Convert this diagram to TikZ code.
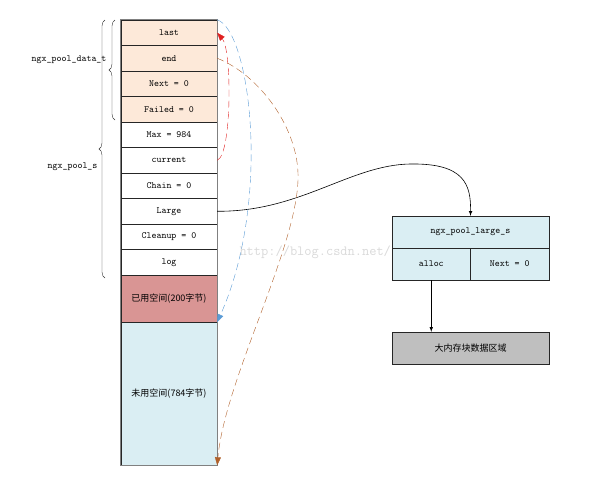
\documentclass[tikz,border=0pt]{standalone}
\usepackage{fontspec}
\newfontfamily\cjk{Noto Sans CJK SC}
\usetikzlibrary{arrows.meta,decorations.pathreplacing}

\definecolor{peach}{HTML}{FDE9D9}
\definecolor{usedred}{HTML}{D99594}
\definecolor{paleblue}{HTML}{DAEEF3}
\definecolor{blockgray}{HTML}{BFBFBF}
\definecolor{ptrred}{HTML}{E02020}
\definecolor{ptrblue}{HTML}{5B9BD5}
\definecolor{ptrbrown}{HTML}{B0602A}

\begin{document}
\begin{tikzpicture}[x=1pt,y=-1pt,>=latex]
        \tikzset{
            field/.style={draw=black!85, minimum width=96pt, minimum height=25.5pt, inner sep=0pt, font=\ttfamily\fontsize{9.5}{11}\selectfont},
            area/.style={draw=black!85, minimum width=96pt, inner sep=0pt, font=\cjk\fontsize{9}{11}\selectfont},
            cell/.style={draw=black!85, fill=paleblue, minimum height=32pt, inner sep=0pt, font=\ttfamily\fontsize{9.5}{11}\selectfont},
            ptr/.style={dashed, dash pattern=on 7pt off 4pt, -{Triangle[length=8pt,width=6pt]}},
            link/.style={->, black, line width=0.6pt},
            brace/.style={decorate, decoration={brace, amplitude=6pt}, black!80},
            tag/.style={font=\ttfamily\fontsize{9.5}{11}\selectfont}
        }
        \useasboundingbox (0,0) rectangle (591,480);

        % watermark, under the boxes
        \node[anchor=west, text=black!15, font=\ttfamily\fontsize{14}{15}\selectfont] (mark) at (236,252) {http://blog.csdn.net/};

        % ngx_pool_s column
        \node[field, fill=peach] (last) at (169,32.75) {last};
        \node[field, fill=peach] (end) at (169,58.25) {end};
        \node[field, fill=peach] (next) at (169,83.75) {Next = 0};
        \node[field, fill=peach] (failed) at (169,109.25) {Failed = 0};
        \node[field, fill=white] (max) at (169,134.75) {Max = 984};
        \node[field, fill=white] (current) at (169,160.25) {current};
        \node[field, fill=white] (chain) at (169,185.75) {Chain = 0};
        \node[field, fill=white] (large) at (169,211.25) {Large};
        \node[field, fill=white] (cleanup) at (169,236.75) {Cleanup = 0};
        \node[field, fill=white] (log) at (169,262.25) {log};
        \node[area, fill=usedred, minimum height=47pt] (used) at (169,298.5) {已用空间(200字节)};
        \node[area, fill=paleblue, minimum height=143pt] (unused) at (169,393.5) {未用空间(784字节)};
        \draw[black!50, line width=1.2pt] (last.north west) rectangle (unused.south east);

        % braces and their names
        \draw[brace] (115,120) -- (115,20);
        \draw[brace] (105,278) -- (105,20);
        \node[tag, anchor=east] (datat) at (110,60) {ngx\_pool\_data\_t};
        \node[tag, anchor=east] (pools) at (101,167) {ngx\_pool\_s};

        % ngx_pool_large_s
        \node[cell, minimum width=157pt] (larges) at (470.5,232) {ngx\_pool\_large\_s};
        \node[cell, minimum width=78.5pt] (alloc) at (431.25,264) {alloc};
        \node[cell, minimum width=78.5pt] (lnext) at (509.75,264) {Next = 0};
        \node[draw=black!85, fill=blockgray, minimum width=157pt, minimum height=32pt, inner sep=0pt, font=\cjk\fontsize{9}{11}\selectfont] (bigblk) at (470.5,348) {大内存块数据区域};

        \draw[link] (large.east) .. controls (300,212) and (350,165) .. (410,164) .. controls (465,163) and (471,185) .. (larges.north);
        \draw[link] (alloc.south) -- (alloc.south |- bigblk.north);

        % pointers
        \draw[ptr, ptrred] (current.east) .. controls (232,155) and (232,50) .. (last.east);
        \draw[ptr, ptrblue] (last.north east) .. controls (250,30) and (272,200) .. (used.south east);
        \draw[ptr, ptrbrown] (end.east) .. controls (260,75) and (300,130) .. (298,180) .. controls (296,250) and (225,380) .. (unused.south east);
    \end{tikzpicture}
\end{document}
